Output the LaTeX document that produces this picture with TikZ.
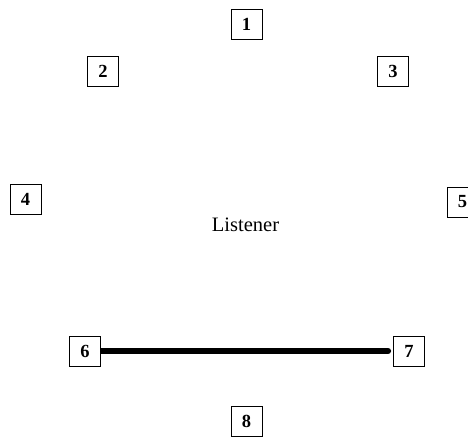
\documentclass[tikz,border=0pt]{standalone}
\usepackage{fontspec}
\setmainfont{Liberation Serif}
\usepackage{tikz}
\usetikzlibrary{backgrounds}

\begin{document}
\begin{tikzpicture}[
  x=1pt, y=-1pt,
  spk/.style={draw, fill=white, line width=0.8pt, inner sep=0pt,
              minimum width=31pt, minimum height=30pt,
              font=\fontsize{18.5}{20}\selectfont\bfseries},
  bar/.style={line width=6pt, line cap=round}
]
  \useasboundingbox (0,0) rectangle (468,436);
  % Loudspeaker positions
  \node[spk] (s1) at (246.5,  24) {1};
  \node[spk] (s2) at (103,    71) {2};
  \node[spk] (s3) at (393,    71) {3};
  \node[spk] (s4) at (25.5,  199) {4};
  \node[spk] (s5) at (462.5, 202) {5};
  \node[spk] (s6) at (85,    351) {6};
  \node[spk] (s7) at (409,   351) {7};
  \node[spk] (s8) at (246.5, 421) {8};
  % Listener in the middle
  \node[anchor=base, font=\fontsize{20.5}{24}\selectfont, inner sep=0pt]
    (listener) at (245.5, 231) {Listener};
  % Bar between 6 and 7 (behind the boxes)
  \begin{scope}[on background layer]
    \draw[bar] (s6.center) -- ([xshift=-5pt]s7.west);
  \end{scope}
\end{tikzpicture}
\end{document}
